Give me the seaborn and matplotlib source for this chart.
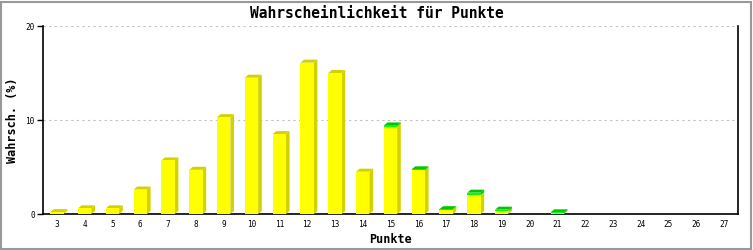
import matplotlib
matplotlib.use("Agg")
import matplotlib.pyplot as plt
import seaborn as sns
import pandas as pd
from matplotlib.patches import Polygon, Rectangle

# ---- data ----
punkte = [3, 4, 5, 6, 7, 8, 9, 10, 11, 12, 13, 14, 15, 16, 17, 18, 19, 20, 21,
          22, 23, 24, 25, 26, 27]
gelb = [0.2, 0.6, 0.6, 2.6, 5.7, 4.7, 10.3, 14.5, 8.5, 16.1, 15.0, 4.5, 9.3,
        4.65, 0.47, 2.0, 0.28, 0.0, 0.06, 0.0, 0.0, 0.0, 0.0, 0.0, 0.0]
gruen = [0.0, 0.0, 0.0, 0.0, 0.0, 0.0, 0.0, 0.0, 0.0, 0.0, 0.0, 0.0, 0.12,
         0.1, 0.04, 0.27, 0.18, 0.0, 0.12, 0.0, 0.0, 0.0, 0.0, 0.0, 0.0]
y_ticks = [0, 10, 20]

titel = "Wahrscheinlichkeit für Punkte"
x_titel = "Punkte"
y_titel = "Wahrsch. (%)"

sns.set_theme(style="ticks")
plt.rcParams['font.family'] = ['DejaVu Sans Mono', 'DejaVu Sans']
plt.rcParams.update({
    "text.color": "black",
    "axes.labelcolor": "black",
    "xtick.color": "black",
    "ytick.color": "black",
    "xtick.labelcolor": "black",
    "ytick.labelcolor": "black",
})

df = pd.DataFrame({
    "Punkte": [str(p) for p in punkte],
    "gelb": gelb,
    "gesamt": [a + b for a, b in zip(gelb, gruen)],
})

fig = plt.figure(figsize=(7.53, 2.5), dpi=100)
ax = fig.add_axes([43 / 753, 36 / 250, 695 / 753, 188 / 250])

GELB, GELB_D = "#FFFF00", "#D2D200"
GRUEN, GRUEN_D = "#00FF00", "#00C800"

sns.barplot(data=df, x="Punkte", y="gesamt", color=GRUEN, width=0.48,
            saturation=1, errorbar=None, linewidth=0, zorder=3, ax=ax)
sns.barplot(data=df, x="Punkte", y="gelb", color=GELB, width=0.48,
            saturation=1, errorbar=None, linewidth=0, zorder=3, ax=ax)

n = len(punkte)
green_bars = ax.patches[:n]
yellow_bars = ax.patches[n:2 * n]
dx, dy = 0.13, 0.32
for gb, yb, gr in zip(green_bars, yellow_bars, gruen):
    h = gb.get_height()
    if h <= 0:
        continue
    yh = yb.get_height()
    x0 = gb.get_x()
    xr = x0 + gb.get_width()
    # right side faces
    ax.add_patch(Polygon([(xr, 0), (xr + dx, dy), (xr + dx, yh + dy), (xr, yh)],
                         closed=True, facecolor=GELB_D, edgecolor="none", zorder=2.9))
    if gr > 0:
        ax.add_patch(Polygon([(xr, yh), (xr + dx, yh + dy), (xr + dx, h + dy), (xr, h)],
                             closed=True, facecolor=GRUEN_D, edgecolor="none", zorder=2.9))
    # top face
    ax.add_patch(Polygon([(x0, h), (x0 + dx, h + dy), (xr + dx, h + dy), (xr, h)],
                         closed=True, facecolor=GRUEN_D if gr > 0 else GELB_D,
                         edgecolor="none", zorder=2.9))

ax.set_ylim(0, 20)
ax.set_xlim(-0.5, n - 0.5)
ax.set_yticks(y_ticks)
ax.set_yticklabels([str(t) for t in y_ticks])

ax.yaxis.grid(True, linestyle=(0, (2, 3)), color="#C0C0C0", linewidth=0.8)
ax.set_axisbelow(True)

for s in ["left", "bottom", "right"]:
    ax.spines[s].set_visible(True)
    ax.spines[s].set_color("black")
    ax.spines[s].set_linewidth(1.2)
ax.spines["top"].set_visible(False)

ax.tick_params(axis="y", left=True, length=4, width=1, color="black",
               labelcolor="black", labelsize=5.6, pad=2, direction="out")
ax.tick_params(axis="x", bottom=False, length=0, labelcolor="black",
               labelsize=5.6, pad=4.3)

ax.set_xlabel(x_titel, fontsize=8.5, fontweight="bold", color="black")
ax.set_ylabel(y_titel, fontsize=8.5, fontweight="bold", color="black")
ax.xaxis.label.set_va("center")
ax.yaxis.label.set_va("center")
ax.xaxis.set_label_coords(0.5, -0.138)
ax.yaxis.set_label_coords(-0.0446, 0.5)

fig.text(0.5, 1 - 13 / 250, titel, ha="center", va="center",
         fontsize=10.5, fontweight="bold", color="black")

fig.patches.append(Rectangle((0.7 / 753, 1.5 / 250), 750 / 753, 247 / 250,
                             transform=fig.transFigure, fill=False,
                             edgecolor="#999999", linewidth=1.5))

fig.savefig("out.png", dpi=100)
